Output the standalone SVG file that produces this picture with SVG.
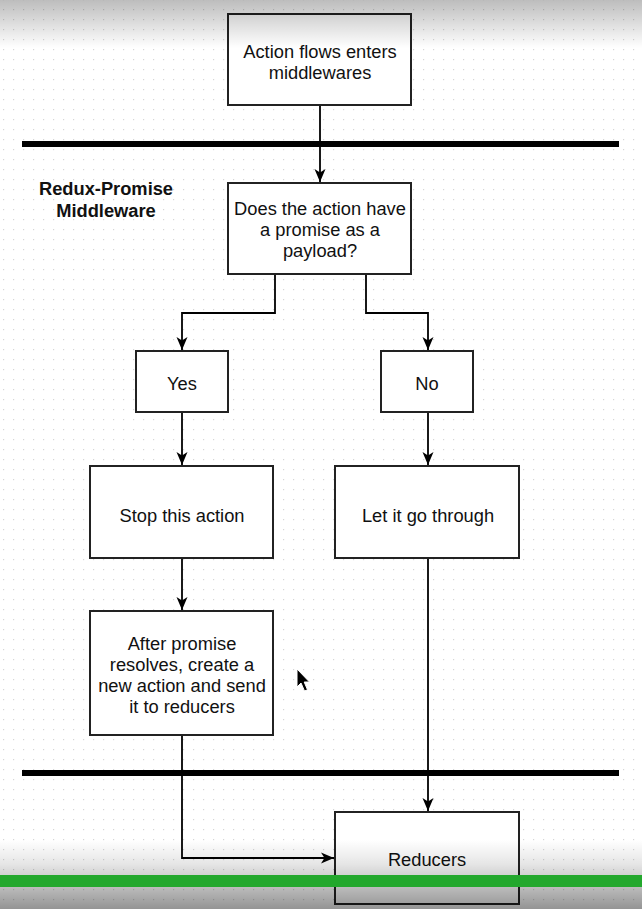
<svg xmlns="http://www.w3.org/2000/svg" width="642" height="909" viewBox="0 0 642 909">
  <defs>
    <pattern id="grid" x="3" y="9" width="10" height="10" patternUnits="userSpaceOnUse">
      <rect x="0" y="0" width="1.2" height="1.2" fill="#d6d6d6"/>
    </pattern>
    <linearGradient id="topShade" x1="0" y1="0" x2="0" y2="1">
      <stop offset="0" stop-color="#000" stop-opacity="0.26"/>
      <stop offset="1" stop-color="#000" stop-opacity="0"/>
    </linearGradient>
    <linearGradient id="bottomShade" x1="0" y1="0" x2="0" y2="1">
      <stop offset="0" stop-color="#000" stop-opacity="0"/>
      <stop offset="0.35" stop-color="#000" stop-opacity="0.1"/>
      <stop offset="1" stop-color="#000" stop-opacity="0.42"/>
    </linearGradient>
    <marker id="arrow" markerWidth="14" markerHeight="14" refX="13" refY="7" orient="auto" markerUnits="userSpaceOnUse">
      <path d="M0,1.5 L13,7 L0,12.5 L3.5,7 Z" fill="#000"/>
    </marker>
  </defs>
  <style>
    .box { fill: #fff; stroke: #222; stroke-width: 2; }
    .lbl { font-family: "Liberation Sans", Arial, sans-serif; font-size: 18.3px; fill: #111; text-anchor: middle; }
    .title { font-family: "Liberation Sans", Arial, sans-serif; font-size: 18.3px; font-weight: bold; fill: #111; text-anchor: middle; }
    .edge { fill: none; stroke: #000; stroke-width: 1.8; }
    .bar { stroke: #000; stroke-width: 6; }
  </style>

  <!-- canvas -->
  <rect x="0" y="0" width="642" height="909" fill="#fff"/>
  <rect x="0" y="0" width="642" height="909" fill="url(#grid)"/>

  <!-- swimlane separators -->
  <line class="bar" x1="22" y1="144" x2="619" y2="144"/>
  <line class="bar" x1="22" y1="773" x2="619" y2="773"/>

  <!-- connectors -->
  <g id="connectors">
    <path class="edge" d="M320,105 V182" marker-end="url(#arrow)"/>
    <path class="edge" d="M275,274 V313 H182 V350" marker-end="url(#arrow)"/>
    <path class="edge" d="M366,274 V313 H428 V350" marker-end="url(#arrow)"/>
    <path class="edge" d="M182,412 V465" marker-end="url(#arrow)"/>
    <path class="edge" d="M428,412 V465" marker-end="url(#arrow)"/>
    <path class="edge" d="M182,558 V610" marker-end="url(#arrow)"/>
    <path class="edge" d="M428,558 V811" marker-end="url(#arrow)"/>
    <path class="edge" d="M182,735 V858 H334" marker-end="url(#arrow)"/>
  </g>

  <g id="lane-label">
    <text class="title" x="106" y="195">Redux-Promise</text>
    <text class="title" x="106" y="217">Middleware</text>
  </g>

  <g id="enter">
    <rect class="box" x="228" y="14" width="183" height="91"/>
    <text class="lbl" x="320" y="58">Action flows enters</text>
    <text class="lbl" x="320" y="79">middlewares</text>
  </g>

  <g id="check">
    <rect class="box" x="228" y="183" width="183" height="91"/>
    <text class="lbl" x="320" y="215">Does the action have</text>
    <text class="lbl" x="320" y="236">a promise as a</text>
    <text class="lbl" x="320" y="257">payload?</text>
  </g>

  <g id="yes">
    <rect class="box" x="136" y="351" width="92" height="61"/>
    <text class="lbl" x="182" y="390">Yes</text>
  </g>

  <g id="no">
    <rect class="box" x="381" y="351" width="92" height="61"/>
    <text class="lbl" x="427" y="390">No</text>
  </g>

  <g id="stop">
    <rect class="box" x="90" y="466" width="183" height="92"/>
    <text class="lbl" x="182" y="522">Stop this action</text>
  </g>

  <g id="pass">
    <rect class="box" x="335" y="466" width="184" height="92"/>
    <text class="lbl" x="428" y="522">Let it go through</text>
  </g>

  <g id="resolve">
    <rect class="box" x="90" y="611" width="183" height="124"/>
    <text class="lbl" x="182" y="650">After promise</text>
    <text class="lbl" x="182" y="671">resolves, create a</text>
    <text class="lbl" x="182" y="692">new action and send</text>
    <text class="lbl" x="182" y="713">it to reducers</text>
  </g>

  <g id="reducers">
    <rect class="box" x="335" y="812" width="184" height="92"/>
    <text class="lbl" x="427" y="866">Reducers</text>
  </g>

  <!-- mouse pointer -->
  <path d="M297,669 L297,687 L301,683 L304.5,691 L307.5,689.8 L304.2,682 L309.5,682 Z" fill="#000" stroke="#fff" stroke-width="1"/>

  <!-- edge shading and progress bar -->
  <rect x="0" y="0" width="642" height="48" fill="url(#topShade)"/>
  <rect x="0" y="840" width="642" height="69" fill="url(#bottomShade)"/>
  <rect x="0" y="875" width="642" height="12" fill="#23a82d"/>
</svg>
